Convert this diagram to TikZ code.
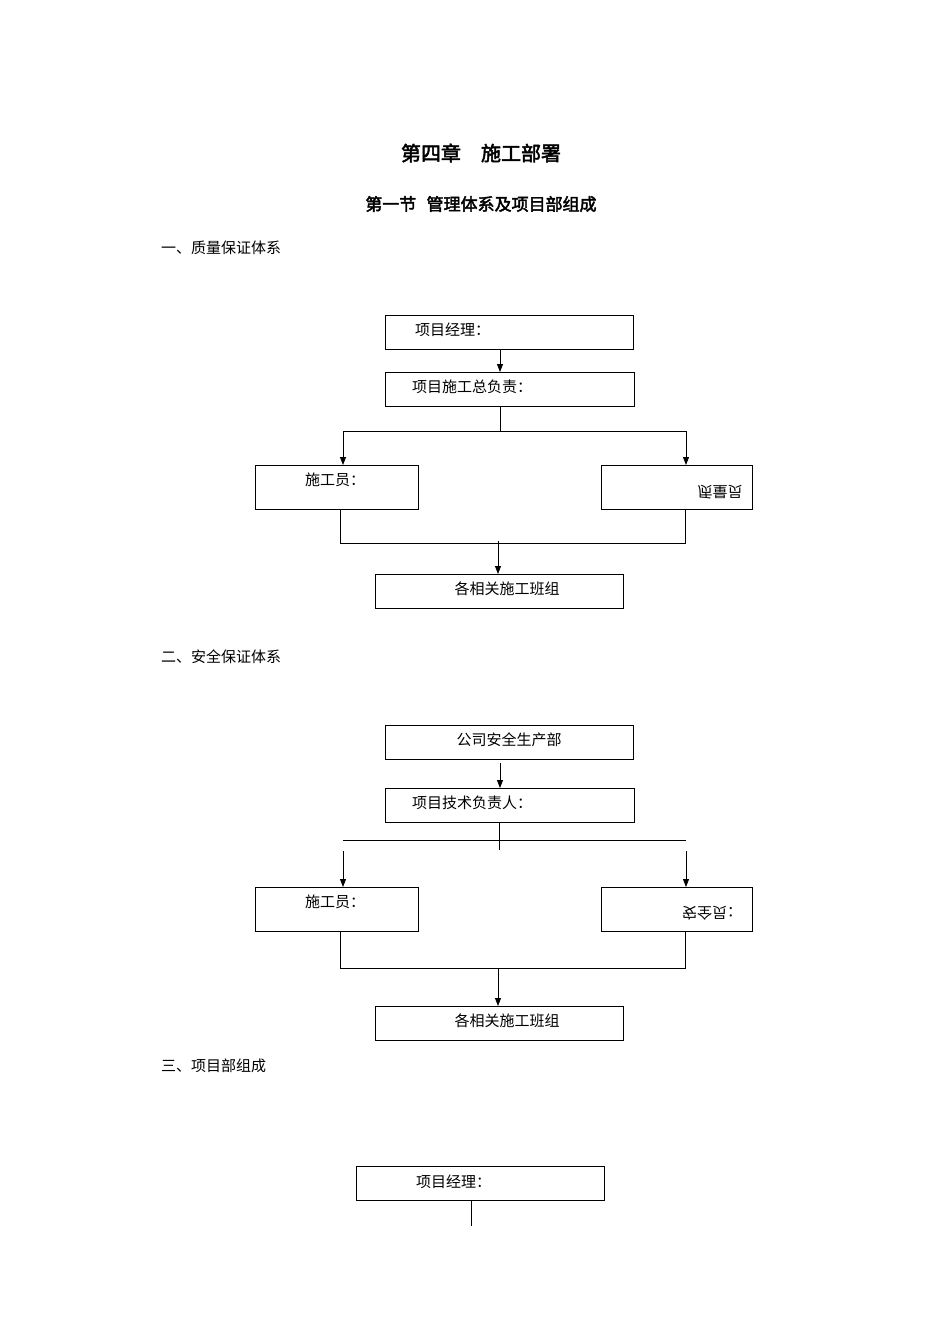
\documentclass[tikz,border=0pt]{standalone}
\usepackage{fontspec}
\setmainfont{Noto Sans CJK SC}
\newfontfamily\cjkb[FakeBold=2.5]{Noto Sans CJK SC}
\usetikzlibrary{arrows.meta}
\begin{document}
\begin{tikzpicture}[x=1pt,y=-1pt,
 bx/.style={draw,line width=1pt},
 ar/.style={-{Triangle[length=8pt,width=6pt]},line width=0.8pt},
 ln/.style={line width=0.8pt},
 tx/.style={font=\fontsize{15}{15}\selectfont,inner sep=0pt},
 hd/.style={font=\fontsize{15}{15}\selectfont,inner sep=0pt,anchor=west}]
\useasboundingbox (0,0) rectangle (950,1344);
\node[font=\cjkb\fontsize{20}{20}\selectfont] (t1) at (481,153) {第四章\hspace{1em}施工部署};
\node[font=\cjkb\fontsize{17}{17}\selectfont] (t2) at (481,204) {第一节\hspace{0.6em}管理体系及项目部组成};
\node[hd] (h1) at (161,248) {一、质量保证体系};
% system 1
\draw[bx] (385,315) rectangle (633,349); \node[tx,anchor=west] (a1) at (415,330) {项目经理：};
\draw[bx] (385,372) rectangle (634,406); \node[tx,anchor=west] (a2) at (412,387) {项目施工总负责：};
\draw[ar] (500,349) -- (500,372);
\draw[ln] (500,406) -- (500,431); \draw[ln] (343,431) -- (686,431);
\draw[ar] (343,431) -- (343,465); \draw[ar] (686,431) -- (686,465);
\draw[bx] (255,465) rectangle (418,509); \node[tx,anchor=west] (a3) at (305,480) {施工员：};
\draw[bx] (601,465) rectangle (752,509); \node[tx,yscale=-1] (a4) at (720,492) {质量员};
\draw[ln] (340,509) -- (340,543) -- (685,543) -- (685,509);
\draw[ar] (498,541) -- (498,574);
\draw[bx] (375,574) rectangle (623,608); \node[tx] (a5) at (507,589) {各相关施工班组};
\node[hd] (h2) at (161,657) {二、安全保证体系};
% system 2
\draw[bx] (385,725) rectangle (633,759); \node[tx] (b1) at (509,740) {公司安全生产部};
\draw[ar] (500,763) -- (500,788);
\draw[bx] (385,788) rectangle (634,822); \node[tx,anchor=west] (b2) at (412,803) {项目技术负责人：};
\draw[ln] (499,822) -- (499,850); \draw[ln] (343,840) -- (686,840);
\draw[ar] (343,851) -- (343,887); \draw[ar] (686,851) -- (686,887);
\draw[bx] (255,887) rectangle (418,931); \node[tx,anchor=west] (b3) at (305,902) {施工员：};
\draw[bx] (601,887) rectangle (752,931); \node[tx,yscale=-1] (b4) at (712,913) {安全员：};
\draw[ln] (340,931) -- (340,968) -- (685,968) -- (685,931);
\draw[ar] (498,968) -- (498,1006);
\draw[bx] (375,1006) rectangle (623,1040); \node[tx] (b5) at (507,1021) {各相关施工班组};
\node[hd] (h3) at (161,1066) {三、项目部组成};
\draw[bx] (356,1166) rectangle (604,1200); \node[tx,anchor=west] (c1) at (416,1182) {项目经理：};
\draw[ln] (471,1200) -- (471,1226);
\end{tikzpicture}
\end{document}
